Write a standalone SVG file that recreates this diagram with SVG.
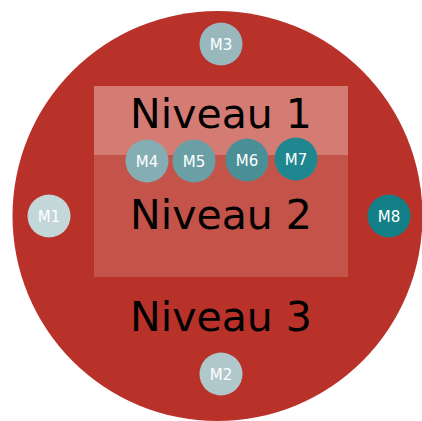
<svg xmlns="http://www.w3.org/2000/svg" width="422" height="421" viewBox="0 0 422 421">
<style>
.big{font-family:"DejaVu Sans",Verdana,sans-serif;font-size:41px;fill:#000;text-anchor:middle}
.lbl{font-family:"DejaVu Sans",Verdana,sans-serif;font-size:15px;fill:#fff;text-anchor:middle}
</style>
<rect width="422" height="421" fill="#fff"/>
<g id="niveau3"><circle cx="217.5" cy="216" r="205" fill="#b9322a"/><text class="big" x="221" y="331">Niveau 3</text></g>
<g id="niveau2"><rect x="94" y="86" width="254" height="191" fill="#c4534a"/><text class="big" x="221" y="229">Niveau 2</text></g>
<g id="niveau1"><rect x="94" y="86" width="254" height="69" fill="#d47b74"/><text class="big" x="221" y="128">Niveau 1</text></g>
<g id="connectors"/>
<g id="M1"><circle cx="49" cy="216" r="21.5" fill="#c3d6d8"/><text class="lbl" x="49" y="221.5">M1</text></g>
<g id="M2"><circle cx="221" cy="374" r="21.5" fill="#b0c8cc"/><text class="lbl" x="221" y="379.5">M2</text></g>
<g id="M3"><circle cx="221" cy="44" r="21.5" fill="#99b8bd"/><text class="lbl" x="221" y="49.5">M3</text></g>
<g id="M4"><circle cx="147" cy="161" r="21.5" fill="#85aeb4"/><text class="lbl" x="147" y="166.5">M4</text></g>
<g id="M5"><circle cx="194" cy="161" r="21.5" fill="#6b9fa6"/><text class="lbl" x="194" y="166.5">M5</text></g>
<g id="M6"><circle cx="247" cy="160" r="21.5" fill="#4a8f96"/><text class="lbl" x="247" y="165.5">M6</text></g>
<g id="M7"><circle cx="296" cy="159" r="21.5" fill="#1f8790"/><text class="lbl" x="296" y="164.5">M7</text></g>
<g id="M8"><circle cx="389" cy="216" r="21.5" fill="#137f87"/><text class="lbl" x="389" y="221.5">M8</text></g>
</svg>
